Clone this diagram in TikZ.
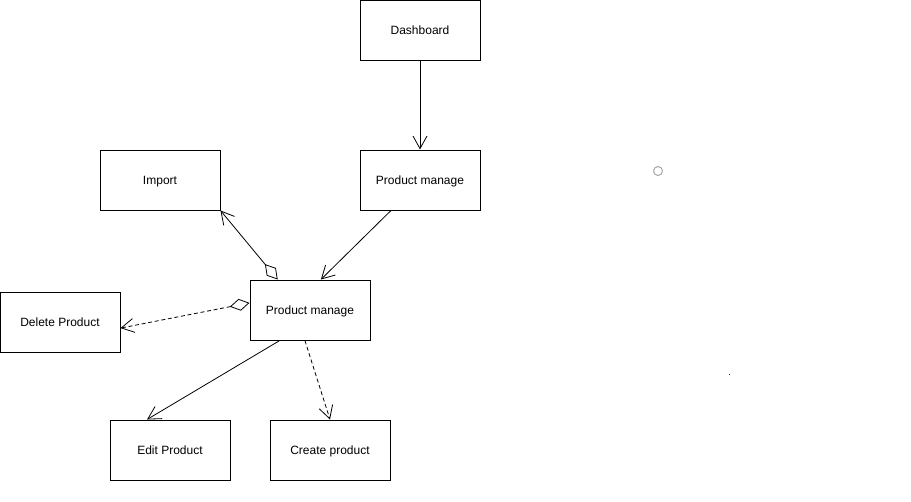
\documentclass[tikz,border=0pt]{standalone}
\usepackage{fontspec}
\setmainfont{Liberation Sans}
\usetikzlibrary{calc,positioning,arrows.meta}

\begin{document}
\begin{tikzpicture}[
        x=0.75pt,y=-0.75pt,
        BoxCfg/.style={
            draw,
            line width=0.75pt,
            minimum width=90pt,
            minimum height=45pt,
            inner sep=0pt,
            text height=7pt,
            text depth=1pt,
            font=\fontsize{9}{11}\selectfont
        },
        LinkCfg/.style={
            line width=0.6pt,
            -{Straight Barb[length=9.5pt,width=10.5pt]}
        },
        DashCfg/.style={
            LinkCfg,
            dash pattern=on 3pt off 2pt
        },
        HasCfg/.style={
            {Diamond[open,length=15pt,width=9pt]}-{Straight Barb[length=9.5pt,width=10.5pt]}
        }
    ]

    \useasboundingbox (0,0) rectangle (911,501);

    %boxes
    \node[BoxCfg] (Dash) at (420,30) {Dashboard};
    \node[BoxCfg] (PMTop) at (420,180) {Product manage};
    \node[BoxCfg] (Imp) at (160,180) {Import};
    \node[BoxCfg] (PMMid) at (310,310) {Product manage};
    \node[BoxCfg] (Del) at (60,322) {Delete Product};
    \node[BoxCfg] (Edit) at (170,450) {Edit Product};
    \node[BoxCfg] (Create) at (330,450) {Create product};

    %connections
    \draw[LinkCfg] (Dash.south)--(PMTop.north);
    \draw[LinkCfg] ($(PMTop.south west)!0.26!(PMTop.south east)$)--($(PMMid.north west)!0.59!(PMMid.north east)$);
    \draw[LinkCfg,HasCfg] ($(PMMid.north west)!0.233!(PMMid.north east)$)--(Imp.south east);
    \draw[DashCfg,HasCfg] ($(PMMid.north west)!0.383!(PMMid.south west)$)--($(Del.north east)!0.6!(Del.south east)$);
    \draw[LinkCfg] ($(PMMid.south west)!0.25!(PMMid.south east)$)--($(Edit.north west)!0.31!(Edit.north east)$);
    \draw[DashCfg] ($(PMMid.south west)!0.458!(PMMid.south east)$)--(Create.north);

    %stray marks
    \draw[gray!70,line width=0.75pt] (658,171) circle (4.5);
    \fill[black!80] (728.5,373.5) rectangle (730,375);

\end{tikzpicture}
\end{document}
